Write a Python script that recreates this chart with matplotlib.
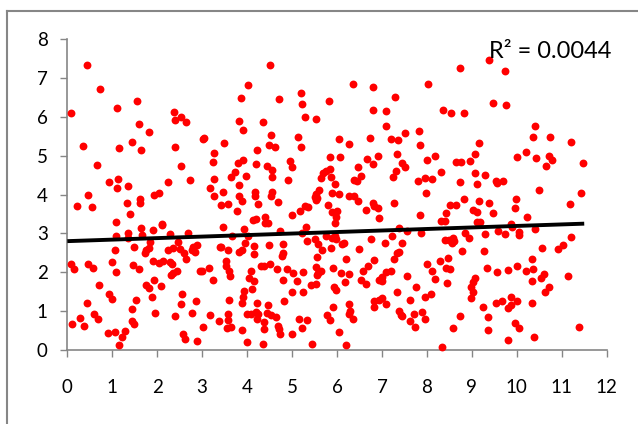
import matplotlib
matplotlib.use("Agg")
import matplotlib.pyplot as plt
from matplotlib.lines import Line2D

# values (x, y)
left_points = [
    (.09, 6.09), (.44, 7.32), (.73, 6.72), (1.11, 6.23), (1.56, 6.40), (.34, 5.24), (.67, 4.75), (1.16, 5.20),
    (1.44, 5.34), (1.64, 5.15), (1.60, 5.81), (1.82, 5.62), (.93, 4.31), (1.13, 4.40), (1.11, 4.18), (1.36, 4.21),
    (.47, 4.0), (2.23, 4.33), (2.73, 4.37), (2.54, 4.73), (2.39, 5.22), (2.37, 6.12), (2.39, 5.92), (2.53, 5.99),
    (2.64, 5.86), (3.03, 5.44), (3.04, 5.46), (3.26, 5.08), (3.24, 4.83), (3.26, 4.39), (3.17, 4.16), (3.27, 3.95),
    (1.93, 3.99), (2.05, 4.03), (1.62, 3.88), (.21, 3.70), (.56, 3.67), (1.32, 3.78), (1.62, 3.77), (1.39, 3.49),
    (1.08, 3.29), (1.65, 3.15), (2.11, 3.23), (2.10, 3.22), (1.91, 3.08), (1.09, 2.93), (1.34, 3.0), (1.35, 2.87),
    (1.67, 2.96), (2.28, 2.98), (2.69, 3.02), (1.83, 2.79), (2.47, 2.78), (1.07, 2.56), (1.48, 2.64), (1.82, 2.62),
    (1.76, 2.56), (1.72, 2.49), (2.23, 2.57), (2.36, 2.63), (2.51, 2.59), (2.60, 2.50), (2.64, 2.34), (2.80, 2.66),
    (2.78, 2.57), (2.89, 2.70), (2.85, 2.51), (3.40, 2.64), (.09, 2.21), (.15, 2.08), (.47, 2.20), (.57, 2.11),
    (.99, 2.26), (1.09, 2.01), (1.46, 2.19), (1.60, 2.09), (1.91, 2.28), (2.05, 2.23), (2.12, 2.29), (2.28, 2.27),
    (2.34, 2.20), (2.43, 2.03), (2.36, 1.97), (2.31, 1.92), (2.95, 2.04), (3.0, 2.02), (3.16, 2.10), (3.24, 1.80),
    (1.93, 1.79), (.70, 1.66), (1.75, 1.67), (1.82, 1.59), (2.08, 1.65), (.92, 1.45), (.99, 1.30), (1.88, 1.36),
    (1.53, 1.28), (2.55, 1.44), (2.86, 1.26), (.44, 1.20), (2.53, 1.18), (1.44, 1.05), (1.94, .96), (2.77, .95),
    (.59, .93), (.68, .81), (.28, .82), (2.39, .87), (3.17, .91), (.10, .66), (.38, .63), (1.44, .75),
    (1.48, .68), (3.37, .74), (3.03, .60), (.90, .44), (1.07, .47), (1.28, .49), (1.21, .33), (1.15, .13),
    (2.58, .41), (2.61, .29), (2.88, .23),
]
middle_points = [
    (4.52, 7.32), (4.03, 6.81), (3.86, 6.48), (4.70, 6.45), (3.83, 5.88), (3.91, 5.66), (4.36, 5.86), (4.53, 5.53),
    (3.49, 5.32), (4.49, 5.27), (4.62, 5.21), (4.23, 5.14), (3.79, 4.81), (3.90, 4.89), (4.20, 4.79), (4.45, 4.74),
    (4.55, 4.62), (3.72, 4.57), (3.65, 4.44), (3.98, 4.48), (4.55, 4.44), (3.83, 4.25), (3.46, 4.07), (3.83, 3.97),
    (4.17, 4.07), (4.17, 3.95), (4.55, 4.07), (4.53, 3.95), (4.95, 4.87), (4.99, 4.71), (4.92, 4.37), (5.21, 6.61),
    (5.23, 6.33), (5.29, 5.99), (5.53, 5.93), (5.82, 6.41), (5.14, 5.47), (5.19, 5.21), (6.04, 5.44), (6.26, 5.29),
    (5.85, 4.97), (6.07, 4.97), (5.84, 4.65), (5.75, 4.61), (5.69, 4.55), (5.64, 4.42), (5.86, 4.45), (5.95, 4.26),
    (5.59, 4.12), (5.54, 4.01), (5.52, 3.93), (5.88, 4.04), (6.04, 4.02), (6.36, 6.84), (6.81, 6.76), (7.29, 6.50),
    (6.79, 6.17), (7.09, 6.16), (7.10, 5.75), (6.73, 5.45), (7.21, 5.44), (7.36, 5.40), (7.51, 5.57), (7.82, 5.63),
    (7.85, 5.27), (7.33, 5.05), (6.91, 4.98), (6.67, 4.91), (6.81, 4.79), (6.46, 4.70), (6.53, 4.47), (6.38, 4.37),
    (6.45, 4.34), (7.45, 4.82), (7.52, 4.71), (7.31, 4.61), (7.25, 4.46), (8.0, 4.89), (7.81, 4.34), (7.95, 4.42),
    (7.99, 4.05), (6.27, 3.95), (6.37, 3.97), (8.02, 6.85), (3.89, 3.82), (4.25, 3.75), (4.68, 3.80), (3.42, 3.73),
    (3.57, 3.75), (3.78, 3.57), (4.39, 3.41), (4.14, 3.35), (4.19, 3.36), (4.40, 3.26), (4.47, 3.26), (3.46, 3.17),
    (3.94, 3.10), (3.66, 2.92), (4.01, 2.94), (4.74, 3.05), (4.99, 3.46), (5.18, 3.58), (5.29, 3.71), (5.35, 3.68),
    (5.55, 3.90), (5.53, 3.86), (5.30, 3.16), (5.23, 3.02), (5.81, 3.74), (5.88, 3.55), (6.0, 3.57), (5.98, 3.43),
    (5.95, 3.26), (6.47, 3.83), (6.64, 3.60), (6.79, 3.77), (6.82, 3.71), (6.91, 3.64), (6.93, 3.39), (7.27, 3.77),
    (7.85, 3.46), (7.39, 3.15), (7.56, 3.05), (7.86, 3.0), (7.22, 2.92), (6.76, 2.85), (5.76, 2.93), (5.88, 2.87),
    (5.95, 2.92), (5.98, 2.86), (5.34, 2.81), (5.50, 2.85), (5.58, 2.72), (5.67, 2.57), (5.87, 2.63), (6.11, 2.72),
    (6.15, 2.76), (6.48, 2.59), (7.07, 2.76), (7.44, 2.76), (7.39, 2.51), (7.33, 2.50), (7.27, 2.35), (3.95, 2.74),
    (4.16, 2.68), (4.48, 2.69), (4.80, 2.72), (3.41, 2.64), (3.57, 2.56), (3.82, 2.53), (3.88, 2.57), (4.16, 2.47),
    (4.80, 2.49), (4.78, 2.42), (5.55, 2.38), (6.21, 2.34), (6.82, 2.31), (6.69, 2.17), (6.58, 2.04), (3.54, 2.30),
    (3.52, 2.15), (3.60, 2.02), (3.63, 1.90), (4.08, 2.02), (4.32, 2.15), (4.38, 2.17), (4.52, 2.22), (4.66, 2.08),
    (4.88, 2.08), (5.02, 1.99), (5.25, 2.01), (5.53, 2.14), (5.65, 2.02), (5.58, 1.97), (5.55, 1.92), (5.90, 2.11),
    (6.09, 1.98), (6.27, 1.95), (7.08, 2.0), (7.21, 2.02), (7.56, 1.90), (8.0, 2.20), (4.05, 1.84), (4.15, 1.77),
    (4.80, 1.80), (5.10, 1.78), (6.17, 1.76), (6.54, 1.81), (6.64, 1.70), (7.0, 1.87), (6.93, 1.79), (7.0, 1.78),
    (5.43, 1.66), (5.54, 1.69), (4.12, 1.57), (7.76, 1.63), (5.93, 1.62), (5.98, 1.55), (3.94, 1.53), (5.0, 1.49),
    (5.24, 1.48), (7.33, 1.48), (7.96, 1.36), (3.91, 1.36), (3.60, 1.29), (3.88, 1.20), (4.22, 1.22), (4.81, 1.25),
    (6.82, 1.27), (6.99, 1.35), (6.93, 1.29), (7.10, 1.18), (7.63, 1.29), (6.26, 1.18), (6.82, 1.11), (5.92, 1.11),
    (4.46, 1.16), (6.30, 1.01), (6.27, .92), (6.36, .81), (7.37, 1.01), (7.44, .87), (7.42, .90), (7.72, .92),
    (7.62, .75), (7.73, .60), (7.90, .98), (7.95, .81), (3.99, .93), (4.08, .93), (4.19, .99), (4.24, .93),
    (4.21, .79), (4.44, .96), (4.53, .90), (4.64, .86), (3.58, .92), (3.57, .78), (5.78, .91), (5.84, .77),
    (5.15, .81), (5.34, .76), (4.38, .72), (4.38, .53), (4.68, .63), (4.71, .53), (4.74, .40), (5.23, .56),
    (5.0, .42), (3.56, .57), (3.64, .60), (3.89, .51), (6.05, .47), (4.0, .21), (4.35, .16), (5.44, .15),
    (6.21, .14),
]
right_points = [
    (8.74, 7.26), (9.39, 7.45), (9.73, 7.18), (8.36, 6.18), (8.53, 6.09), (8.83, 6.10), (9.47, 6.36), (9.77, 6.31),
    (10.40, 5.75), (10.36, 5.48), (10.74, 5.49), (11.20, 5.34), (9.17, 5.33), (9.08, 5.04), (8.19, 5.0), (8.65, 4.84),
    (8.76, 4.84), (8.96, 4.85), (10.0, 4.97), (10.2, 5.10), (10.43, 4.93), (10.72, 5.0), (10.79, 4.89), (10.66, 4.73),
    (11.47, 4.80), (8.31, 4.58), (9.06, 4.55), (9.30, 4.51), (8.73, 4.33), (9.11, 4.26), (9.54, 4.35), (9.57, 4.30),
    (9.70, 4.34), (8.11, 4.39), (10.50, 4.12), (11.42, 4.05), (8.82, 3.88), (9.17, 3.84), (9.99, 3.89), (9.39, 3.77),
    (8.51, 3.73), (8.65, 3.72), (9.97, 3.64), (9.02, 3.60), (9.11, 3.55), (9.47, 3.52), (8.42, 3.52), (10.23, 3.43),
    (11.18, 3.76), (8.31, 3.33), (8.40, 3.32), (9.12, 3.30), (9.18, 3.28), (9.86, 3.24), (9.90, 3.16), (9.58, 3.07),
    (10.40, 3.11), (10.05, 3.04), (10.06, 2.97), (9.73, 2.98), (9.29, 2.98), (8.85, 3.0), (8.94, 2.87), (8.40, 2.83),
    (8.49, 2.84), (8.57, 2.88), (8.60, 2.81), (8.56, 2.74), (11.21, 2.91), (11.03, 2.69), (10.91, 2.59), (10.55, 2.62),
    (8.79, 2.54), (9.26, 2.54), (8.46, 2.36), (8.30, 2.30), (10.34, 2.33), (8.42, 2.11), (8.51, 2.08), (8.11, 2.02),
    (9.33, 2.12), (9.57, 2.01), (9.80, 2.06), (10.01, 2.17), (10.21, 2.03), (10.37, 2.08), (10.60, 1.96), (10.54, 1.84),
    (10.34, 1.78), (11.15, 1.90), (8.19, 1.82), (8.44, 1.72), (9.06, 1.84), (9.02, 1.74), (8.97, 1.62), (9.02, 1.48),
    (8.97, 1.33), (10.71, 1.61), (10.62, 1.50), (8.10, 1.44), (9.87, 1.37), (10.0, 1.25), (9.67, 1.27), (9.53, 1.20),
    (9.86, 1.17), (9.81, 1.07), (10.34, 1.22), (9.25, 1.11), (8.73, .88), (9.35, .85), (9.95, .69), (10.05, .57),
    (8.57, .57), (9.37, .51), (11.38, .58), (10.38, .34), (9.81, .26), (8.33, .07),
]
trend_x = [0, 11.5]
trend_y = [2.80, 3.25]
x_ticks = list(range(0, 13))
y_ticks = list(range(0, 9))
r2_label = "R² = 0.0044"

plt.rcParams["font.family"] = ["Lato", "DejaVu Sans"]
gray = "#868686"

points = left_points + middle_points + right_points
xs = [p[0] for p in points]
ys = [p[1] for p in points]

fig = plt.figure(figsize=(6.38, 4.24), dpi=100)
ax = fig.add_axes([67.3 / 638, 74 / 424, 539.4 / 638, 311 / 424])

ax.scatter(xs, ys, s=32, color="#ff0000", linewidths=0, zorder=3, clip_on=False)
ax.plot(trend_x, trend_y, color="black", lw=2.8, solid_capstyle="butt", zorder=4)

ax.set_xlim(0, 12)
ax.set_ylim(0, 8)
ax.set_xticks(x_ticks)
ax.set_yticks(y_ticks)
ax.spines["top"].set_visible(False)
ax.spines["right"].set_visible(False)
for side in ["left", "bottom"]:
    ax.spines[side].set_color(gray)
    ax.spines[side].set_linewidth(1.2)
ax.tick_params(axis="both", color=gray, width=1.0, length=5, labelsize=13.5, labelcolor="black")
ax.tick_params(axis="x", pad=16)
ax.tick_params(axis="y", pad=9)

ax.text(550 / 638, 373 / 424, r2_label, transform=fig.transFigure, fontsize=17,
        ha="center", va="center", color="black")

# chart frame, only the left and top edges fall inside the picture
fig.add_artist(Line2D([6.5 / 638, 6.5 / 638], [0, 413 / 424], color=gray, lw=1.5))
fig.add_artist(Line2D([6.5 / 638, 1], [413 / 424, 413 / 424], color=gray, lw=1.5))

fig.savefig("out.png", dpi=100)
